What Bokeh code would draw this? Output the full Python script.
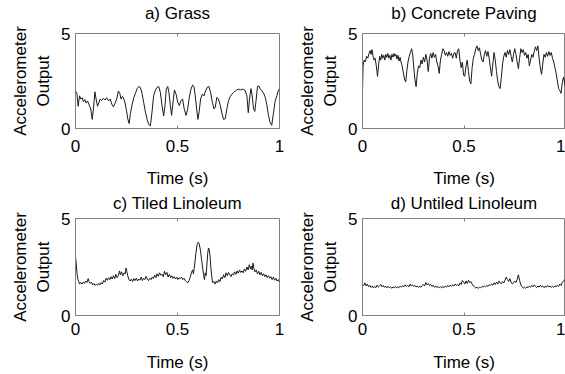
from bokeh.plotting import figure
from bokeh.layouts import column, row
from bokeh.models import Range1d, FixedTicker, LinearAxis
from bokeh.embed import file_html
from bokeh.resources import INLINE

# ---------------- data ----------------
titles = ["a) Grass", "b) Concrete Paving", "c) Tiled Linoleum", "d) Untiled Linoleum"]
x_label = "Time (s)"
y_label = "Accelerometer\nOutput"
x_ticks = [0, 0.5, 1]
x_tick_labels = ["0", "0.5", "1"]
y_ticks = [0, 5]
y_tick_labels = ["0", "5"]

grass_t = [0.000, 0.007, 0.013, 0.020, 0.026, 0.033, 0.039, 0.046, 0.052, 0.059, 0.067, 0.075, 0.082, 0.088,
           0.095, 0.101, 0.108, 0.114, 0.121, 0.129, 0.137, 0.145, 0.153, 0.162, 0.170, 0.178, 0.186, 0.194,
           0.202, 0.210, 0.217, 0.223, 0.230, 0.237, 0.243, 0.250, 0.256, 0.263, 0.269, 0.277, 0.285, 0.294,
           0.302, 0.310, 0.318, 0.326, 0.334, 0.343, 0.351, 0.359, 0.367, 0.375, 0.383, 0.392, 0.400, 0.408,
           0.416, 0.424, 0.432, 0.439, 0.445, 0.452, 0.458, 0.465, 0.471, 0.478, 0.485, 0.493, 0.501, 0.509,
           0.517, 0.525, 0.533, 0.542, 0.550, 0.558, 0.566, 0.574, 0.581, 0.587, 0.594, 0.600, 0.607, 0.613,
           0.622, 0.630, 0.636, 0.646, 0.654, 0.662, 0.671, 0.679, 0.685, 0.693, 0.701, 0.710, 0.718, 0.726,
           0.734, 0.742, 0.750, 0.759, 0.767, 0.775, 0.783, 0.791, 0.799, 0.808, 0.816, 0.824, 0.832, 0.840,
           0.847, 0.853, 0.860, 0.866, 0.873, 0.879, 0.886, 0.892, 0.899, 0.905, 0.914, 0.922, 0.930, 0.938,
           0.946, 0.954, 0.962, 0.971, 0.979, 0.987, 0.994, 1.000]
grass_v = [1.98, 1.84, 1.17, 1.72, 1.55, 1.62, 1.41, 1.52, 1.34, 1.45, 1.24, 1.03, 0.48, 1.03,
           1.93, 1.55, 1.17, 1.34, 1.55, 1.48, 1.59, 1.50, 1.62, 1.45, 1.55, 1.28, 1.14, 1.34,
           1.55, 1.97, 1.86, 1.55, 1.69, 1.55, 1.34, 0.95, 0.52, 0.26, 0.78, 1.24, 1.59, 1.86,
           2.10, 2.21, 2.16, 1.86, 1.38, 0.86, 0.48, 0.21, 0.14, 0.86, 1.72, 2.03, 2.17, 2.21,
           1.90, 1.21, 0.66, 1.24, 2.07, 2.21, 1.90, 1.21, 0.69, 1.38, 2.03, 1.81, 1.38, 1.21,
           1.47, 1.55, 1.03, 0.69, 1.03, 1.64, 2.07, 2.28, 2.21, 1.72, 1.03, 0.48, 0.95, 1.55,
           1.81, 1.72, 1.93, 2.17, 2.21, 1.90, 1.38, 1.03, 1.12, 1.64, 1.55, 1.21, 0.78, 0.48,
           0.52, 1.03, 1.47, 1.69, 1.81, 1.90, 1.97, 2.03, 2.07, 2.03, 2.07, 2.05, 2.00, 1.72,
           0.83, 1.55, 2.10, 1.72, 1.03, 0.90, 1.55, 2.21, 2.24, 2.10, 1.98, 1.86, 1.64, 1.24,
           0.69, 0.31, 0.17, 0.86, 1.47, 1.72, 1.98, 2.10]

concrete_t = [0.000, 0.003, 0.008, 0.014, 0.020, 0.026, 0.032, 0.038, 0.042, 0.047, 0.052, 0.057, 0.062, 0.068,
              0.074, 0.080, 0.085, 0.090, 0.095, 0.100, 0.105, 0.110, 0.115, 0.120, 0.125, 0.130, 0.135, 0.140,
              0.145, 0.150, 0.155, 0.160, 0.165, 0.170, 0.175, 0.180, 0.185, 0.190, 0.195, 0.200, 0.207, 0.213,
              0.218, 0.224, 0.230, 0.236, 0.242, 0.247, 0.252, 0.258, 0.264, 0.270, 0.276, 0.282, 0.288, 0.294,
              0.300, 0.306, 0.312, 0.318, 0.324, 0.330, 0.336, 0.342, 0.348, 0.354, 0.360, 0.366, 0.372, 0.378,
              0.384, 0.390, 0.396, 0.402, 0.408, 0.414, 0.420, 0.426, 0.432, 0.438, 0.444, 0.450, 0.456, 0.462,
              0.468, 0.474, 0.480, 0.486, 0.492, 0.498, 0.504, 0.510, 0.516, 0.522, 0.528, 0.534, 0.540, 0.546,
              0.552, 0.558, 0.564, 0.570, 0.576, 0.582, 0.588, 0.594, 0.600, 0.606, 0.612, 0.618, 0.624, 0.630,
              0.636, 0.642, 0.648, 0.654, 0.660, 0.666, 0.672, 0.678, 0.684, 0.690, 0.696, 0.702, 0.708, 0.714,
              0.720, 0.726, 0.732, 0.738, 0.744, 0.750, 0.756, 0.762, 0.768, 0.774, 0.780, 0.786, 0.792, 0.798,
              0.804, 0.810, 0.816, 0.822, 0.828, 0.834, 0.840, 0.846, 0.852, 0.858, 0.864, 0.870, 0.876, 0.882,
              0.888, 0.894, 0.900, 0.906, 0.912, 0.918, 0.924, 0.930, 0.936, 0.942, 0.948, 0.954, 0.960, 0.966,
              0.972, 0.978, 0.984, 0.990, 1.000]
concrete_v = [2.00, 3.30, 3.60, 3.50, 3.80, 3.70, 3.95, 4.10, 3.90, 4.15, 3.80, 3.60, 3.70, 3.30,
              2.75, 3.40, 3.80, 3.60, 3.90, 3.70, 3.85, 3.60, 3.90, 3.75, 3.95, 3.70, 3.85, 3.60,
              3.90, 3.75, 3.95, 3.80, 3.90, 3.65, 3.85, 3.55, 3.75, 3.50, 3.30, 3.00, 2.60, 2.45,
              3.00, 3.50, 3.80, 4.00, 4.20, 3.90, 3.30, 2.60, 2.20, 2.90, 3.30, 3.20, 3.60, 3.40,
              3.75, 3.50, 3.90, 3.60, 3.00, 3.70, 3.95, 3.70, 4.00, 3.75, 3.90, 3.50, 3.30, 2.90,
              3.60, 3.90, 4.20, 4.10, 3.85, 4.00, 3.80, 4.05, 3.85, 3.95, 3.70, 3.95, 4.00, 3.70,
              4.10, 4.20, 3.60, 3.20, 3.50, 2.80, 2.75, 3.30, 3.60, 3.00, 2.50, 2.35, 3.20, 3.70,
              3.90, 4.20, 4.35, 4.10, 4.25, 3.90, 3.60, 3.50, 3.90, 4.10, 3.80, 4.05, 3.70, 3.20,
              2.75, 3.40, 4.00, 3.60, 3.00, 2.50, 2.20, 2.10, 2.70, 3.40, 3.80, 4.00, 3.75, 4.10,
              3.90, 4.15, 3.80, 3.50, 3.90, 4.20, 3.90, 3.50, 3.15, 3.70, 4.20, 4.00, 4.15, 3.85,
              4.00, 3.70, 3.90, 3.30, 3.60, 3.90, 3.75, 4.05, 4.30, 4.10, 4.35, 3.70, 3.20, 2.85,
              3.40, 3.90, 3.75, 4.00, 3.80, 4.05, 3.85, 4.00, 3.70, 3.50, 3.20, 2.90, 2.50, 2.10,
              2.00, 1.85, 2.40, 2.70, 2.20]

tiled_t = [0.000, 0.004, 0.008, 0.012, 0.016, 0.020, 0.026, 0.032, 0.038, 0.044, 0.050, 0.056, 0.062, 0.066,
           0.072, 0.078, 0.084, 0.090, 0.096, 0.102, 0.108, 0.114, 0.120, 0.126, 0.132, 0.138, 0.144, 0.150,
           0.156, 0.162, 0.168, 0.174, 0.180, 0.186, 0.192, 0.198, 0.204, 0.210, 0.216, 0.220, 0.226, 0.232,
           0.238, 0.244, 0.248, 0.252, 0.256, 0.262, 0.268, 0.274, 0.280, 0.286, 0.292, 0.298, 0.304, 0.310,
           0.316, 0.322, 0.328, 0.334, 0.340, 0.346, 0.352, 0.358, 0.364, 0.370, 0.376, 0.382, 0.388, 0.394,
           0.400, 0.406, 0.412, 0.418, 0.424, 0.430, 0.436, 0.442, 0.448, 0.454, 0.460, 0.466, 0.472, 0.478,
           0.484, 0.490, 0.496, 0.502, 0.508, 0.514, 0.520, 0.526, 0.532, 0.538, 0.544, 0.550, 0.556, 0.562,
           0.568, 0.574, 0.578, 0.584, 0.590, 0.596, 0.602, 0.606, 0.612, 0.618, 0.624, 0.628, 0.632, 0.636,
           0.640, 0.644, 0.648, 0.652, 0.656, 0.660, 0.664, 0.668, 0.672, 0.678, 0.684, 0.690, 0.696, 0.702,
           0.708, 0.714, 0.720, 0.726, 0.732, 0.738, 0.744, 0.750, 0.756, 0.762, 0.768, 0.774, 0.780, 0.786,
           0.792, 0.798, 0.804, 0.810, 0.816, 0.822, 0.828, 0.834, 0.840, 0.846, 0.852, 0.858, 0.862, 0.866,
           0.870, 0.874, 0.880, 0.886, 0.892, 0.898, 0.904, 0.910, 0.916, 0.922, 0.928, 0.934, 0.940, 0.946,
           0.952, 0.958, 0.964, 0.970, 0.976, 0.982, 0.988, 0.994, 1.000]
tiled_v = [3.05, 2.60, 2.10, 1.85, 1.75, 1.62, 1.70, 1.62, 1.72, 1.66, 1.78, 1.70, 1.90, 1.75,
           1.65, 1.72, 1.58, 1.65, 1.55, 1.62, 1.56, 1.66, 1.58, 1.70, 1.62, 1.80, 1.72, 1.92,
           1.82, 1.95, 1.85, 2.00, 1.88, 2.05, 1.90, 2.12, 1.95, 2.05, 2.30, 2.10, 2.25, 2.05,
           2.20, 2.15, 2.45, 2.25, 2.05, 1.85, 1.78, 1.88, 1.75, 1.90, 1.80, 1.92, 1.78, 1.88,
           1.82, 1.98, 1.80, 1.92, 1.85, 2.02, 1.88, 1.80, 1.92, 1.85, 1.98, 1.90, 2.08, 1.95,
           2.15, 2.02, 2.20, 2.08, 2.12, 2.00, 2.28, 2.10, 2.22, 1.98, 2.12, 1.95, 2.05, 1.92,
           2.00, 1.88, 1.98, 1.85, 1.95, 1.90, 1.98, 1.85, 1.92, 1.80, 1.75, 1.68, 1.80, 1.95,
           2.20, 2.35, 2.15, 2.60, 3.20, 3.65, 3.78, 3.70, 3.40, 2.90, 2.40, 2.10, 1.85, 2.20,
           2.05, 2.60, 3.20, 3.48, 3.40, 3.00, 2.40, 2.00, 1.70, 1.75, 1.62, 1.78, 1.68, 1.85,
           1.75, 1.98, 1.88, 2.10, 1.95, 2.20, 2.05, 2.22, 2.10, 2.00, 2.15, 2.08, 2.25, 2.12,
           2.30, 2.18, 2.35, 2.22, 2.30, 2.20, 2.40, 2.28, 2.50, 2.35, 2.62, 2.40, 2.55, 2.35,
           2.70, 2.45, 2.25, 2.35, 2.15, 2.28, 2.10, 2.22, 2.05, 2.15, 2.00, 2.10, 1.95, 2.05,
           1.92, 2.00, 1.85, 1.98, 1.82, 1.92, 1.78, 1.85, 1.72]

untiled_t = [0.000, 0.006, 0.012, 0.018, 0.024, 0.030, 0.036, 0.042, 0.048, 0.054, 0.060, 0.066, 0.072, 0.078,
             0.084, 0.090, 0.096, 0.102, 0.108, 0.114, 0.120, 0.126, 0.132, 0.138, 0.144, 0.150, 0.156, 0.162,
             0.168, 0.174, 0.180, 0.186, 0.192, 0.198, 0.204, 0.210, 0.216, 0.222, 0.228, 0.234, 0.240, 0.246,
             0.252, 0.258, 0.264, 0.270, 0.276, 0.282, 0.288, 0.294, 0.300, 0.306, 0.312, 0.318, 0.324, 0.330,
             0.336, 0.342, 0.348, 0.354, 0.360, 0.366, 0.372, 0.378, 0.384, 0.390, 0.396, 0.402, 0.408, 0.414,
             0.420, 0.426, 0.432, 0.438, 0.444, 0.450, 0.456, 0.462, 0.468, 0.474, 0.480, 0.486, 0.492, 0.498,
             0.504, 0.510, 0.516, 0.522, 0.528, 0.534, 0.540, 0.546, 0.552, 0.558, 0.564, 0.570, 0.576, 0.582,
             0.588, 0.594, 0.600, 0.606, 0.612, 0.618, 0.624, 0.630, 0.636, 0.642, 0.648, 0.654, 0.660, 0.666,
             0.672, 0.678, 0.684, 0.690, 0.696, 0.702, 0.708, 0.714, 0.720, 0.726, 0.732, 0.738, 0.744, 0.750,
             0.756, 0.762, 0.768, 0.774, 0.780, 0.786, 0.792, 0.798, 0.804, 0.810, 0.816, 0.822, 0.828, 0.834,
             0.840, 0.846, 0.852, 0.858, 0.864, 0.870, 0.876, 0.882, 0.888, 0.894, 0.900, 0.906, 0.912, 0.918,
             0.924, 0.930, 0.936, 0.942, 0.948, 0.954, 0.960, 0.966, 0.972, 0.978, 0.984, 0.990, 1.000]
untiled_v = [1.60, 1.55, 1.68, 1.52, 1.62, 1.48, 1.55, 1.45, 1.52, 1.42, 1.50, 1.44, 1.56, 1.46,
             1.52, 1.60, 1.48, 1.55, 1.45, 1.52, 1.42, 1.50, 1.44, 1.48, 1.40, 1.47, 1.43, 1.50,
             1.42, 1.48, 1.44, 1.52, 1.46, 1.54, 1.48, 1.58, 1.50, 1.56, 1.48, 1.62, 1.52, 1.58,
             1.50, 1.55, 1.47, 1.52, 1.45, 1.50, 1.46, 1.55, 1.60, 1.52, 1.70, 1.58, 1.65, 1.55,
             1.60, 1.50, 1.56, 1.46, 1.52, 1.44, 1.50, 1.43, 1.48, 1.42, 1.50, 1.44, 1.52, 1.46,
             1.55, 1.48, 1.56, 1.50, 1.58, 1.52, 1.62, 1.55, 1.60, 1.52, 1.68, 1.60, 1.80, 1.72,
             1.62, 1.78, 1.65, 1.82, 1.70, 1.75, 1.62, 1.52, 1.48, 1.42, 1.45, 1.40, 1.46, 1.43,
             1.50, 1.46, 1.52, 1.48, 1.55, 1.50, 1.58, 1.55, 1.62, 1.56, 1.68, 1.60, 1.72, 1.62,
             1.78, 1.68, 1.64, 1.75, 1.68, 1.82, 1.98, 1.85, 1.75, 1.90, 1.72, 1.62, 1.70, 1.78,
             1.70, 1.85, 2.10, 1.80, 1.58, 1.48, 1.42, 1.46, 1.40, 1.48, 1.44, 1.52, 1.46, 1.55,
             1.48, 1.58, 1.50, 1.44, 1.52, 1.46, 1.56, 1.48, 1.52, 1.44, 1.50, 1.46, 1.55, 1.48,
             1.52, 1.45, 1.50, 1.46, 1.53, 1.48, 1.56, 1.50, 1.62, 1.55, 1.70, 1.78, 1.85]

series = [(grass_t, grass_v), (concrete_t, concrete_v), (tiled_t, tiled_v), (untiled_t, untiled_v)]

# ---------------- styling ----------------
FONT = "Liberation Sans"
FS = "17px"
FRAME = "#808080"


def make_panel(idx, width, height, bl, br, bt, bb, title_gap, tick_gap, label_gap):
    t, v = series[idx]
    p = figure(width=width, height=height, x_range=Range1d(0, 1), y_range=Range1d(0, 5),
               output_backend="svg", toolbar_location=None,
               min_border_left=bl, min_border_right=br, min_border_top=bt, min_border_bottom=bb)
    p.xgrid.visible = False
    p.ygrid.visible = False
    p.outline_line_color = FRAME
    p.background_fill_color = "white"
    p.border_fill_color = "white"

    xa = p.xaxis[0]
    xa.ticker = FixedTicker(ticks=x_ticks)
    xa.major_label_overrides = dict(zip(x_ticks, x_tick_labels))
    xa.axis_label = x_label
    ya = p.yaxis[0]
    ya.ticker = FixedTicker(ticks=y_ticks)
    ya.major_label_overrides = dict(zip(y_ticks, y_tick_labels))
    ya.axis_label = y_label

    # top axis: inward tick at 0.5 (box style); its axis label is the panel title
    top = LinearAxis(ticker=FixedTicker(ticks=[0.5]), major_label_overrides={0.5: ""},
                     major_label_text_font_size="0px", major_label_standoff=0,
                     axis_label=titles[idx])
    p.add_layout(top, "above")

    for ax in (xa, ya, top):
        ax.axis_line_color = FRAME
        ax.major_tick_line_color = FRAME
        ax.major_tick_in = 3
        ax.major_tick_out = 0
        ax.minor_tick_line_color = None
        ax.axis_label_text_font = FONT
        ax.axis_label_text_font_size = FS
        ax.axis_label_text_font_style = "normal"
        ax.axis_label_text_color = "black"
    for ax in (xa, ya):
        ax.major_label_text_font = FONT
        ax.major_label_text_font_size = FS
        ax.major_label_text_color = "black"
    top.axis_line_color = None
    top.axis_label_standoff = title_gap
    xa.major_label_standoff = tick_gap
    xa.axis_label_standoff = label_gap
    ya.major_label_standoff = 5
    ya.axis_label_standoff = 5

    p.line(t, v, line_color="#1a1a1a", line_width=1)
    return p


# page has no body margin in Bokeh's template: frames at x 75..279 / 362..565
pa = make_panel(0, 287, 190, 75, 8, 33, 61, 11, 11, 14)
pb = make_panel(1, 278, 190, 75, 0, 33, 61, 11, 11, 14)
pc = make_panel(2, 287, 184, 75, 8, 28, 58, 6, 7, 15)
pd = make_panel(3, 278, 184, 75, 0, 28, 58, 6, 7, 15)

layout = column(row(pa, pb), row(pc, pd))

open("out.html", "w").write(file_html(layout, INLINE))
